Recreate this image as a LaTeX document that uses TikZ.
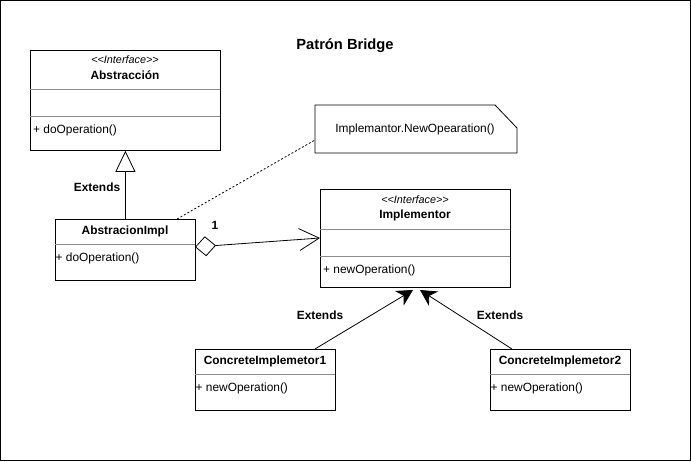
\documentclass[tikz,border=0pt]{standalone}
\usepackage{fontspec}
\setmainfont{Liberation Sans}
\usetikzlibrary{arrows.meta}
\begin{document}
\begin{tikzpicture}[x=1pt,y=-1pt,
  box/.style={draw=black,line width=0.8pt,anchor=north west,inner sep=0pt},
  sep/.style={draw=black!45,line width=0.6pt},
  ttl/.style={font=\fontsize{11.9}{13}\selectfont\bfseries,inner sep=0pt},
  ster/.style={font=\fontsize{10.8}{12}\selectfont\itshape,inner sep=0pt},
  mem/.style={font=\fontsize{11.9}{13}\selectfont,inner sep=0pt,anchor=west},
  lbl/.style={font=\fontsize{11.9}{13}\selectfont\bfseries,inner sep=0pt},
  conn/.style={draw=black,line width=0.8pt}]
\useasboundingbox (0,0) rectangle (691,461);
\draw[line width=0.8pt] (0.5,0.5) rectangle (690.5,460.5);
\node[font=\fontsize{14.7}{16}\selectfont\bfseries,inner sep=0pt] (title) at (345,46) {Patrón Bridge};

% Abstraccion
\node[box,minimum width=190pt,minimum height=100pt] (abs) at (30,50) {};
\node[ster] (absst) at (125,60) {{<}{<}Interface{>}{>}};
\node[ttl] (absn) at (125,75) {Abstracción};
\draw[sep] (30,89) -- (220,89);
\draw[sep] (30,116) -- (220,116);
\node[mem] (absm) at (33,130) {+ doOperation()};

% AbstracionImpl
\node[box,minimum width=140pt,minimum height=61pt] (impl) at (55,219) {};
\node[ttl] (impln) at (125,231) {AbstracionImpl};
\draw[sep] (55,244) -- (195,244);
\node[mem] (implm) at (55.5,258) {+ doOperation()};

% Note
\draw[line width=0.8pt] (315,105) -- (495,105) -- (517,128) -- (517,153) -- (315,153) -- cycle;
\node[font=\fontsize{11.9}{13}\selectfont,inner sep=0pt] (note) at (415,129) {Implemantor.NewOpearation()};
\coordinate (notew) at (315,140);

% Implementor
\node[box,minimum width=190pt,minimum height=98pt] (imp) at (320,189) {};
\node[ster] (impst) at (415,200) {{<}{<}Interface{>}{>}};
\node[ttl] (impn) at (415,215) {Implementor};
\draw[sep] (320,229) -- (510,229);
\draw[sep] (320,256) -- (510,256);
\node[mem] (impm) at (323,270) {+ newOperation()};

% Concrete 1
\node[box,minimum width=140pt,minimum height=61pt] (c1) at (195,349) {};
\node[ttl] (c1n) at (265,361) {ConcreteImplemetor1};
\draw[sep] (195,374) -- (335,374);
\node[mem] (c1m) at (195.5,388) {+ newOperation()};

% Concrete 2
\node[box,minimum width=140pt,minimum height=61pt] (c2) at (490,349) {};
\node[ttl] (c2n) at (560,361) {ConcreteImplemetor2};
\draw[sep] (490,374) -- (630,374);
\node[mem] (c2m) at (490.5,388) {+ newOperation()};

% connectors
\draw[conn,-{Triangle[open,length=21pt,width=20pt]}] (impl.north) -- (abs.south);
\node[lbl] (ext0) at (97,187) {Extends};
\draw[conn,dashed,dash pattern=on 2pt off 2pt] (177,219) -- (notew);
\coordinate (aggs) at (195,247);
\coordinate (agge) at (320,238);
\draw[conn,{Diamond[open,length=21pt,width=20pt]}-{Straight Barb[length=20pt,width=22pt,line width=0.8pt]}] (aggs) -- (agge);
\node[lbl] (one) at (215,225) {1};
\coordinate (c1t) at (315,349);
\coordinate (c2t) at (512,349);
\coordinate (tip1) at (413,290);
\coordinate (tip2) at (420,290);
\draw[conn,-{Stealth[length=16pt,width=17pt,inset=5pt]}] (c1t) -- (tip1);
\draw[conn,-{Stealth[length=16pt,width=17pt,inset=5pt]}] (c2t) -- (tip2);
\node[lbl] (ext1) at (320,315) {Extends};
\node[lbl] (ext2) at (500,315) {Extends};
\end{tikzpicture}
\end{document}
